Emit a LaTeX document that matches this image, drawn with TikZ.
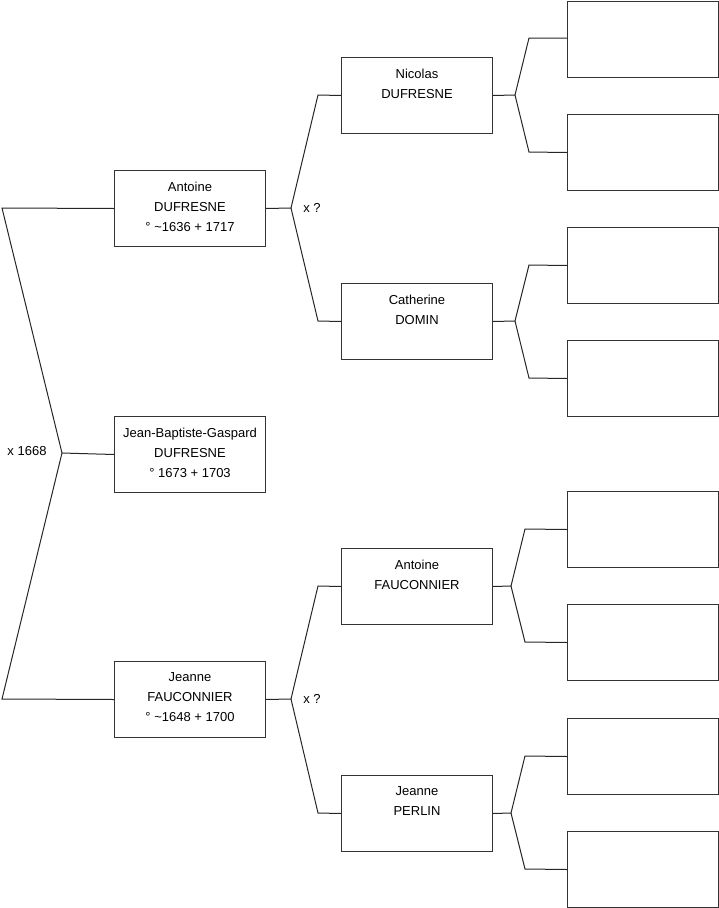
\documentclass[tikz,border=0pt]{standalone}
\usepackage{fontspec}
\setmainfont{Liberation Sans}
\usetikzlibrary{calc}
\begin{document}
\begin{tikzpicture}[x=1pt,y=-1pt,
  person/.style={draw=black!80, line width=1pt, minimum width=151pt, minimum height=76pt, inner sep=0pt, anchor=north west},
  pname/.style={anchor=north, inner sep=0pt, align=center, font=\fontsize{13}{20}\selectfont},
  link/.style={draw=black!85, line width=1pt},
  lbl/.style={inner sep=0pt, font=\fontsize{13}{15}\selectfont}]
\useasboundingbox (0,0) rectangle (719,908);
% generation 1
\node[person] (g) at (114,416) {};
% generation 2
\node[person] (a) at (114,170) {};
\node[person] (j) at (114,661) {};
% generation 3
\node[person] (n) at (341,57) {};
\node[person] (c) at (341,283) {};
\node[person] (af) at (341,548) {};
\node[person] (jp) at (341,775) {};
% generation 4
\node[person] (r1) at (567,0.5) {};
\node[person] (r2) at (567,114) {};
\node[person] (r3) at (567,227) {};
\node[person] (r4) at (567,340) {};
\node[person] (r5) at (567,491) {};
\node[person] (r6) at (567,604) {};
\node[person] (r7) at (567,718) {};
\node[person] (r8) at (567,831) {};
% texts
\node[pname] (tg) at ($(g.north)+(0,11.6)$) {Jean-Baptiste-Gaspard\\DUFRESNE\\° 1673 + 1703};
\node[pname] (ta) at ($(a.north)+(0,11.6)$) {Antoine\\DUFRESNE\\° \textasciitilde1636 + 1717};
\node[pname] (tj) at ($(j.north)+(0,11.6)$) {Jeanne\\FAUCONNIER\\° \textasciitilde1648 + 1700};
\node[pname] (tn) at ($(n.north)+(0,11.6)$) {Nicolas\\DUFRESNE};
\node[pname] (tc) at ($(c.north)+(0,11.6)$) {Catherine\\DOMIN};
\node[pname] (taf) at ($(af.north)+(0,11.6)$) {Antoine\\FAUCONNIER};
\node[pname] (tjp) at ($(jp.north)+(0,11.6)$) {Jeanne\\PERLIN};
% labels
\node[lbl] (m0) at (27,451.5) {x 1668};
\node[lbl] (m1) at (312,207.5) {x ?};
\node[lbl] (m2) at (312,698.5) {x ?};
% junction points
\coordinate (gv) at (62,453);
\coordinate (gu) at (2,208);
\coordinate (gd) at (2,699);
\coordinate (av) at (291,208);
\coordinate (au) at (318,95);
\coordinate (ad) at (318,321);
\coordinate (jv) at (291,699);
\coordinate (ju) at (318,586);
\coordinate (jd) at (318,813);
\coordinate (nv) at (515,95);
\coordinate (nu) at (529,38);
\coordinate (nd) at (529,152);
\coordinate (cv) at (515,321);
\coordinate (cu) at (529,265);
\coordinate (cd) at (529,378);
\coordinate (fv) at (511,586);
\coordinate (fu) at (525,529);
\coordinate (fd) at (525,642);
\coordinate (pv) at (511,813);
\coordinate (pu) at (525,756);
\coordinate (pd) at (525,869);
% connectors
\draw[link] (a.west) -- (gu) -- (gv) -- (gd) -- (j.west);
\draw[link] (gv) -- (g.west);
\draw[link] (a.east) -- (av) -- (au) -- (n.west);
\draw[link] (av) -- (ad) -- (c.west);
\draw[link] (j.east) -- (jv) -- (ju) -- (af.west);
\draw[link] (jv) -- (jd) -- (jp.west);
\draw[link] (n.east) -- (nv) -- (nu) -- (nu -| r1.west);
\draw[link] (nv) -- (nd) -- (r2.west);
\draw[link] (c.east) -- (cv) -- (cu) -- (r3.west);
\draw[link] (cv) -- (cd) -- (r4.west);
\draw[link] (af.east) -- (fv) -- (fu) -- (r5.west);
\draw[link] (fv) -- (fd) -- (r6.west);
\draw[link] (jp.east) -- (pv) -- (pu) -- (r7.west);
\draw[link] (pv) -- (pd) -- (r8.west);
\end{tikzpicture}
\end{document}
